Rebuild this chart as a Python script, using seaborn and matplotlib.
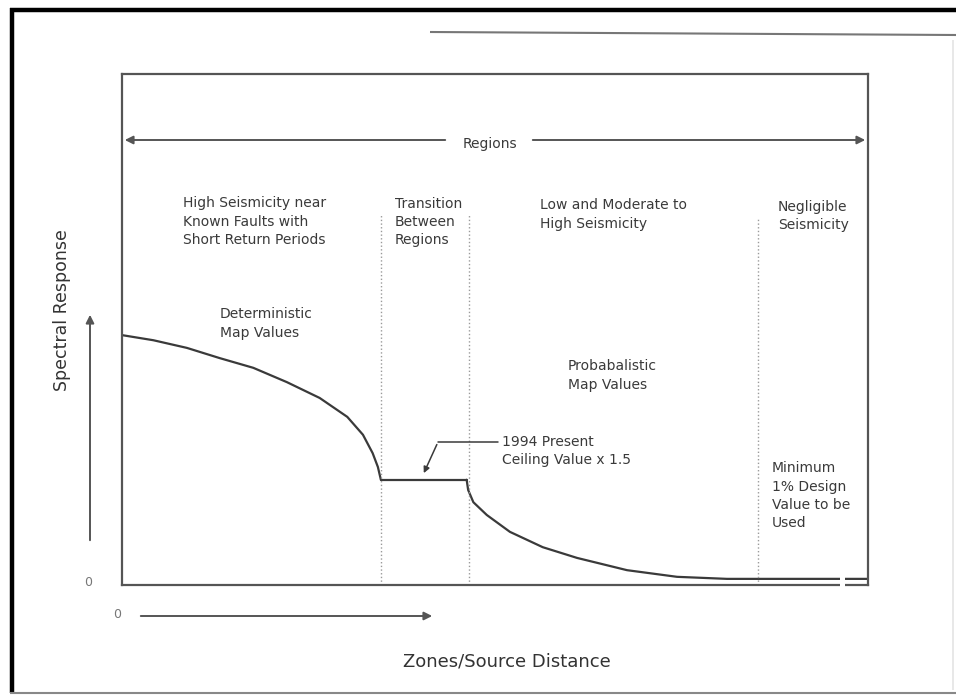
# Seismic design map values vs zones / source distance (schematic)

import pandas as pd
import numpy as np
import matplotlib.pyplot as plt
import seaborn as sns
from matplotlib.lines import Line2D
from matplotlib.patches import Rectangle

# curve, x = zone/source distance, y = spectral response (box units 0-100)
det_x = [0, 4.2, 8.7, 13.1, 17.6, 22.1, 26.5, 30.2, 32.3, 33.6, 34.3, 34.7]
det_y = [48.9, 47.9, 46.4, 44.4, 42.5, 39.7, 36.6, 32.9, 29.4, 25.8, 23.1, 20.6]
ceil_x = [34.7, 46.2]
ceil_y = [20.6, 20.6]
prob_x = [46.2, 46.4, 47.1, 48.9, 52.0, 56.4, 61.0, 67.7, 74.4, 81.1, 85.5, 100.0]
prob_y = [20.6, 18.6, 16.2, 13.7, 10.4, 7.4, 5.3, 2.9, 1.6, 1.2, 1.2, 1.2]

boundaries = [34.7, 46.5, 85.3]

region_labels = ["High Seismicity near\nKnown Faults with\nShort Return Periods",
                 "Transition\nBetween\nRegions",
                 "Low and Moderate to\nHigh Seismicity",
                 "Negligible\nSeismicity"]

df = pd.DataFrame({
    'x': det_x + ceil_x + prob_x,
    'y': det_y + ceil_y + prob_y,
    'seg': ['det'] * len(det_x) + ['ceil'] * len(ceil_x) + ['prob'] * len(prob_x),
})

sns.set_style("white")
plt.rcParams['font.family'] = ['DejaVu Sans']

W, H = 956, 696
fig = plt.figure(figsize=(W / 100, H / 100), dpi=100)


def fp(x, y):
    # scan pixel -> figure fraction
    return x / W, 1 - y / H


ax = fig.add_axes([122 / W, 1 - 585 / H, 746 / W, 511 / H])

sns.lineplot(data=df, x='x', y='y', units='seg', estimator=None, sort=False,
             color='#3a3a3a', linewidth=1.6, ax=ax)

ax.set_xlim(0, 100)
ax.set_ylim(0, 100)
ax.set_xticks([])
ax.set_yticks([])
ax.set_xlabel("")
ax.set_ylabel("")
for s in ax.spines.values():
    s.set_color('#555555')
    s.set_linewidth(1.6)

for b, top in zip(boundaries, [0.724, 0.724, 0.718]):
    ax.axvline(b, ymin=0, ymax=top, color='#9a9a9a', linestyle=':', linewidth=1.0)

# break in baseline and curve near the right edge
ax.add_patch(Rectangle((96.3, -2), 0.6, 6, facecolor='white', edgecolor='none',
                       clip_on=False, zorder=5))

# Regions double arrow
arrow = dict(arrowstyle='-|>', color='#555555', lw=1.4, mutation_scale=12)
ax.annotate('', xy=fp(122, 140), xytext=fp(448, 140), xycoords='figure fraction',
            textcoords='figure fraction', arrowprops=arrow)
ax.annotate('', xy=fp(868, 140), xytext=fp(530, 140), xycoords='figure fraction',
            textcoords='figure fraction', arrowprops=arrow)
fig.text(*fp(490, 148), "Regions", ha='center', va='baseline', fontsize=10, color='#3a3a3a')

txt = dict(va='top', ha='left', fontsize=10, color='#3a3a3a', linespacing=1.38)
for (px, py), lab in zip([(183, 196.5), (395, 196.5), (540, 198.5), (778, 199.5)], region_labels):
    fig.text(*fp(px, py), lab, **txt)

fig.text(*fp(220, 307.5), "Deterministic\nMap Values", **txt)
fig.text(*fp(568, 359.5), "Probabalistic\nMap Values", **txt)
fig.text(*fp(502, 434.5), "1994 Present\nCeiling Value x 1.5", **txt)
fig.text(*fp(772, 461.5), "Minimum\n1% Design\nValue to be\nUsed", **txt)

# leader for the ceiling value
fig.add_artist(Line2D([438 / W, 498 / W], [1 - 442 / H, 1 - 442 / H],
                      color='#3a3a3a', lw=1.1))
ax.annotate('', xy=(40.3, 21.4), xycoords='data', xytext=fp(438, 442),
            textcoords='figure fraction',
            arrowprops=dict(arrowstyle='-|>', color='#3a3a3a', lw=1.1, mutation_scale=9))

# axis arrows and labels
ax.annotate('', xy=fp(90, 312), xytext=fp(90, 543), xycoords='figure fraction',
            textcoords='figure fraction', arrowprops=arrow)
ax.annotate('', xy=fp(435, 616), xytext=fp(138, 616), xycoords='figure fraction',
            textcoords='figure fraction', arrowprops=arrow)
fig.text(*fp(62, 310), "Spectral Response", rotation=90, ha='center', va='center',
         fontsize=12.5, color='#333333')
fig.text(*fp(507, 661), "Zones/Source Distance", ha='center', va='center',
         fontsize=13, color='#333333')
fig.text(*fp(88, 583), "0", ha='center', va='center', fontsize=9, color='#777777')
fig.text(*fp(117, 615), "0", ha='center', va='center', fontsize=9, color='#777777')

# scanned page frame
frame = dict(solid_capstyle='butt')
fig.add_artist(Line2D([10 / W, 1], [1 - 10 / H, 1 - 10 / H], color='black', lw=3.2, **frame))
fig.add_artist(Line2D([11.5 / W, 11.5 / W], [1 - 8 / H, 1 - 693 / H], color='black', lw=3.2, **frame))
fig.add_artist(Line2D([10 / W, 1], [1 - 693 / H, 1 - 693 / H], color='#888888', lw=1.5, **frame))
fig.add_artist(Line2D([430 / W, 1], [1 - 32 / H, 1 - 35 / H], color='#777777', lw=1.5, **frame))
fig.add_artist(Line2D([953 / W, 953 / W], [1 - 40 / H, 1 - 690 / H], color='#e4e4e4', lw=1.2, **frame))

fig.savefig("out.png", dpi=100)
